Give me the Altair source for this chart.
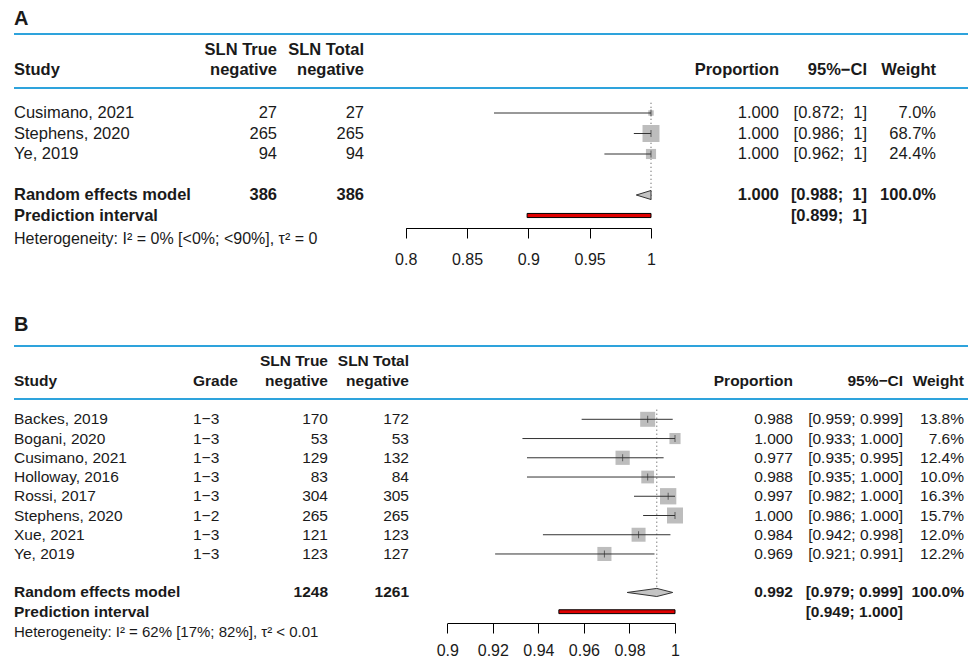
import altair as alt
import pandas as pd

# ---------------- Panel A data ----------------
a_study = ["Cusimano, 2021", "Stephens, 2020", "Ye, 2019"]
a_tn = [27, 265, 94]
a_total = [27, 265, 94]
a_prop = [1.000, 1.000, 1.000]
a_lower = [0.872, 0.986, 0.962]
a_upper = [1.0, 1.0, 1.0]
a_weight = [7.0, 68.7, 24.4]
a_pooled = [1.000, 0.988, 1.0]      # estimate, lower, upper
a_pi = [0.899, 1.0]
a_sums = [386, 386]
a_het = "Heterogeneity: I² = 0% [<0%; <90%], τ² = 0"
a_ticks = [0.8, 0.85, 0.9, 0.95, 1.0]

# ---------------- Panel B data ----------------
b_study = ["Backes, 2019", "Bogani, 2020", "Cusimano, 2021", "Holloway, 2016",
           "Rossi, 2017", "Stephens, 2020", "Xue, 2021", "Ye, 2019"]
b_grade = ["1−3", "1−3", "1−3", "1−3", "1−3", "1−2", "1−3", "1−3"]
b_tn = [170, 53, 129, 83, 304, 265, 121, 123]
b_total = [172, 53, 132, 84, 305, 265, 123, 127]
b_prop = [0.988, 1.000, 0.977, 0.988, 0.997, 1.000, 0.984, 0.969]
b_lower = [0.959, 0.933, 0.935, 0.935, 0.982, 0.986, 0.942, 0.921]
b_upper = [0.999, 1.000, 0.995, 1.000, 1.000, 1.000, 0.998, 0.991]
b_weight = [13.8, 7.6, 12.4, 10.0, 16.3, 15.7, 12.0, 12.2]
b_pooled = [0.992, 0.979, 0.999]
b_pi = [0.949, 1.000]
b_sums = [1248, 1261]
b_het = "Heterogeneity: I² = 62% [17%; 82%], τ² < 0.01"
b_ticks = [0.9, 0.92, 0.94, 0.96, 0.98, 1.0]

FONT = "Liberation Sans"
TXT = "#1a1a1a"
BLUE = "#2ea3dc"
SQ = "#bdbdbd"
LINE = "#333333"


def fmt_a(v):
    return "1" if v >= 1 else f"{v:.3f}"


def ci_a(lo, hi):
    return f"[{fmt_a(lo)}; \u00a0{fmt_a(hi)}]"


def ci_b(lo, hi):
    return f"[{lo:.3f}; {hi:.3f}]"


def make_panel(letter, study, grade, tn, total, prop, lower, upper, weight,
               pooled, pi, sums, het, ticks, ci_fmt, L):
    n = len(study)
    ys = alt.Scale(domain=[0, n + 2], range=L["yrange"])
    xs = alt.Scale(domain=L["xdom"], range=L["xrange"])
    axis = alt.Axis(values=ticks, format="~g", title=None, grid=False,
                    domainColor="black", tickColor="black", tickSize=10,
                    domainWidth=1, tickWidth=1, labelFontSize=16,
                    labelFont=FONT, labelColor=TXT, labelPadding=L["lpad"],
                    labelFlush=False, labelOverlap=False)

    def X(f):
        return alt.X(f"{f}:Q", scale=xs, axis=axis)

    def Y(f="row"):
        return alt.Y(f"{f}:Q", scale=ys, axis=None)

    rows = pd.DataFrame({
        "row": list(range(n)),
        "study": study,
        "grade": grade if grade else [""] * n,
        "tn": [str(v) for v in tn],
        "total": [str(v) for v in total],
        "prop": prop, "lower": lower, "upper": upper, "weight": weight,
        "prop_t": [f"{v:.3f}" for v in prop],
        "ci_t": [ci_fmt(lo, hi) for lo, hi in zip(lower, upper)],
        "w_t": [f"{w:.1f}%" for w in weight],
    })
    pool = pd.DataFrame({
        "row": [n + 1, n + 2],
        "label": ["Random effects model", "Prediction interval"],
        "tn": [str(sums[0]), ""],
        "total": [str(sums[1]), ""],
        "prop_t": [f"{pooled[0]:.3f}", ""],
        "ci_t": [ci_fmt(pooled[1], pooled[2]), ci_fmt(pi[0], pi[1])],
        "w_t": ["100.0%", ""],
    })
    hetdf = pd.DataFrame({"row": [L["het_row"]], "t": [het]})
    one = pd.DataFrame({"k": [0]})

    fs = L["fs"]

    def txt(df, field, x, align, size=fs, bold=False):
        return alt.Chart(df).mark_text(
            align=align, baseline="middle", font=FONT, fontSize=size,
            fontWeight="bold" if bold else "normal", color=TXT
        ).encode(text=f"{field}:N", x=alt.value(x), y=Y())

    def head(t, x, y, align, size=fs):
        return alt.Chart(pd.DataFrame({"t": [t]})).mark_text(
            align=align, baseline="middle", font=FONT, fontSize=size,
            fontWeight="bold", color=TXT
        ).encode(text="t:N", x=alt.value(x), y=alt.value(y))

    def hline(y):
        return alt.Chart(one).mark_rule(color=BLUE, strokeWidth=2).encode(
            x=alt.value(L["line"][0]), x2=alt.value(L["line"][1]), y=alt.value(y))

    c = L["cols"]
    y1, y2 = L["head"]
    layers = [
        head(letter, c["study"], L["letter_y"], "left", size=20),
        hline(L["blue"][0]), hline(L["blue"][1]),
        head("Study", c["study"], y2, "left"),
        head("SLN True", c["tn"], y1, "right"),
        head("negative", c["tn"], y2, "right"),
        head("SLN Total", c["total"], y1, "right"),
        head("negative", c["total"], y2, "right"),
        head("Proportion", c["prop"], y2, "right"),
        head("95%−CI", c["ci"], y2, "right"),
        head("Weight", c["w"], y2, "right"),
    ]
    if grade:
        layers.append(head("Grade", c["grade"], y2, "left"))
        layers.append(txt(rows, "grade", c["grade"], "left"))
    layers += [
        txt(rows, "study", c["study"], "left"),
        txt(rows, "tn", c["tn"], "right"),
        txt(rows, "total", c["total"], "right"),
        txt(rows, "prop_t", c["prop"], "right"),
        txt(rows, "ci_t", c["ci"], "right"),
        txt(rows, "w_t", c["w"], "right"),
        txt(pool, "label", c["study"], "left", bold=True),
        txt(pool, "tn", c["tn"], "right", bold=True),
        txt(pool, "total", c["total"], "right", bold=True),
        txt(pool, "prop_t", c["prop"], "right", bold=True),
        txt(pool, "ci_t", c["ci"], "right", bold=True),
        txt(pool, "w_t", c["w"], "right", bold=True),
        alt.Chart(hetdf).mark_text(
            align="left", baseline="middle", font=FONT, fontSize=L["hfs"], color=TXT
        ).encode(text="t:N", x=alt.value(c["study"]), y=Y()),
    ]

    # forest part
    dot = pd.DataFrame({"est": [pooled[0]], "ya": [-0.5], "yb": [n + 1 + L["dh"]]})
    layers.append(alt.Chart(dot).mark_rule(color="#444444", strokeDash=[1, 3], strokeWidth=1)
                  .encode(x=X("est"), y=Y("ya"), y2="yb"))
    layers.append(alt.Chart(rows).mark_square(color=SQ, opacity=1)
                  .encode(x=X("prop"), y=Y(),
                          size=alt.Size("weight:Q", legend=None,
                                        scale=alt.Scale(domain=[0, 100], range=[0, L["sqk"] * 100]))))
    layers.append(alt.Chart(rows).mark_rule(color=LINE, strokeWidth=1)
                  .encode(x=X("lower"), x2="upper", y=Y()))
    layers.append(alt.Chart(rows).mark_tick(orient="vertical", size=7, thickness=1, color=LINE)
                  .encode(x=X("prop"), y=Y()))
    dx = [pooled[1], pooled[0]] + ([pooled[2]] if pooled[2] > pooled[0] else [])
    r = n + 1
    h = L["dh"]
    dia = pd.DataFrame({
        "x": dx,
        "ylo": [r, r - h] + ([r] if len(dx) == 3 else []),
        "yhi": [r, r + h] + ([r] if len(dx) == 3 else []),
    })
    layers.append(alt.Chart(dia).mark_area(orient="vertical", fill="#c4c4c4", stroke="#333333",
                                           strokeWidth=1, opacity=1)
                  .encode(x=X("x"), y=Y("ylo"), y2="yhi"))
    pidf = pd.DataFrame({"lo": [pi[0]], "hi": [pi[1]], "ya": [n + 2 - 0.1], "yb": [n + 2 + 0.1]})
    layers.append(alt.Chart(pidf).mark_rect(color="#e00000", stroke="black", strokeWidth=1)
                  .encode(x=X("lo"), x2="hi", y=Y("ya"), y2="yb"))

    return alt.layer(*layers).properties(width=963, height=L["height"])


LA = dict(
    yrange=[105, 207.5], xdom=[0.8, 1.0], xrange=[397.7, 643], height=220, lpad=13,
    fs=16.5, hfs=16, het_row=6.15, letter_y=11, head=(42, 62), blue=(26, 80),
    line=(6, 960), sqk=4.2, dh=0.22,
    cols=dict(study=6, tn=269, total=356, prop=771, ci=859, w=928),
)
LB = dict(
    yrange=[109.3, 301.7], xdom=[0.9, 1.0], xrange=[439.3, 667], height=313, lpad=9,
    fs=15.5, hfs=15, het_row=11.04, letter_y=15, head=(51, 71), blue=(36, 89),
    line=(6, 960), sqk=16.3, dh=0.21,
    cols=dict(study=6, grade=185, tn=320, total=401, prop=785, ci=895, w=956),
)

pa = make_panel("A", a_study, None, a_tn, a_total, a_prop, a_lower, a_upper, a_weight,
                a_pooled, a_pi, a_sums, a_het, a_ticks, ci_a, LA)
pb = make_panel("B", b_study, b_grade, b_tn, b_total, b_prop, b_lower, b_upper, b_weight,
                b_pooled, b_pi, b_sums, b_het, b_ticks, ci_b, LB)

chart = alt.vconcat(pa, pb, spacing=82, bounds="flush").resolve_scale(
    size="independent"
).properties(
    padding=0, background="white"
).configure_view(stroke=None)

chart.save("out.html", embed_options={"renderer": "svg", "actions": False})
